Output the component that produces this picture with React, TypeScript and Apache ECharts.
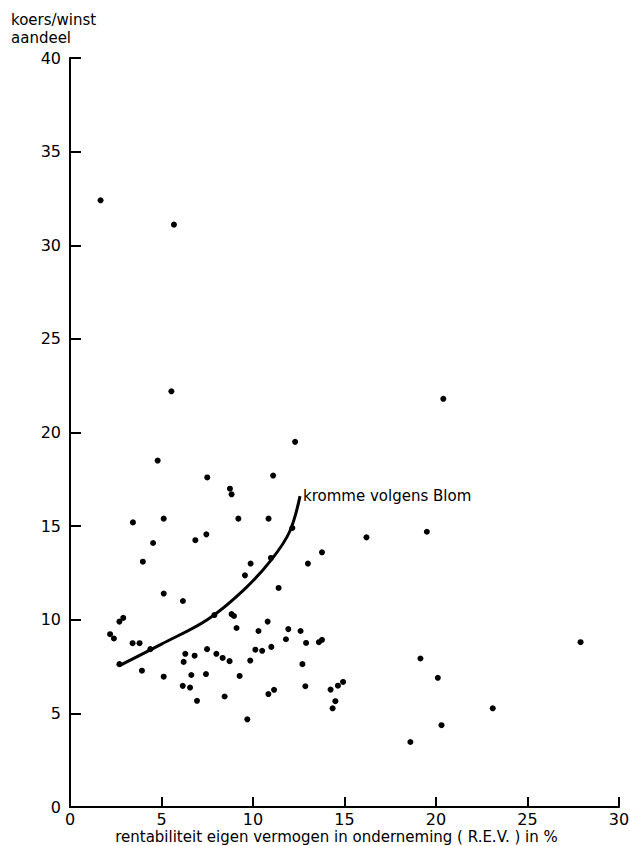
import React, { useEffect, useRef } from "react";
import * as echarts from "echarts";

// R.E.V. (%) and koers/winst per aandeel
const rev = [
  1.67, 5.68, 5.54, 20.4, 12.3, 4.79, 7.5, 11.1, 8.74, 8.83,
  3.44, 5.12, 9.2, 10.85, 12.15, 4.54, 6.85, 7.45, 16.2, 19.5,
  13.77, 3.98, 9.87, 10.98, 13.0, 9.56, 11.4, 5.12, 6.17, 2.91,
  2.7, 7.89, 8.83, 8.96, 9.1, 10.3, 10.8, 11.93, 12.6, 11.8,
  12.9, 13.6, 13.77, 2.19, 2.4, 3.42, 3.8, 4.39, 2.7, 3.93,
  6.3, 6.21, 6.81, 7.49, 8.0, 8.34, 8.72, 10.13, 10.5, 11.0,
  9.85, 12.7, 5.12, 6.63, 7.43, 9.27, 6.16, 6.56, 12.86, 6.94,
  8.45, 10.84, 11.15, 9.69, 14.24, 14.64, 14.92, 14.5, 14.35, 19.15,
  20.1, 23.1, 20.3, 18.6, 27.9,
];
const pe = [
  32.4, 31.1, 22.2, 21.8, 19.5, 18.5, 17.6, 17.7, 17.0, 16.7,
  15.2, 15.4, 15.4, 15.4, 14.9, 14.1, 14.25, 14.56, 14.4, 14.7,
  13.6, 13.1, 13.0, 13.3, 13.0, 12.37, 11.7, 11.4, 11.0, 10.1,
  9.9, 10.25, 10.3, 10.2, 9.56, 9.4, 9.9, 9.5, 9.4, 8.96,
  8.76, 8.8, 8.93, 9.23, 9.0, 8.75, 8.75, 8.43, 7.63, 7.28,
  8.18, 7.75, 8.08, 8.43, 8.18, 7.96, 7.79, 8.4, 8.34, 8.55,
  7.82, 7.63, 6.96, 7.05, 7.1, 7.0, 6.47, 6.38, 6.45, 5.67,
  5.9, 6.03, 6.26, 4.68, 6.27, 6.48, 6.68, 5.65, 5.27, 7.93,
  6.9, 5.27, 4.37, 3.47, 8.8,
];

// "kromme volgens Blom"
const blomX = [2.7, 5.0, 7.5, 9.5, 11.0, 12.0, 12.57];
const blomY = [7.55, 8.7, 10.0, 11.6, 13.2, 14.7, 16.6];

const xTicks = [0, 5, 10, 15, 20, 25, 30];
const yTicks = [0, 5, 10, 15, 20, 25, 30, 35, 40];

const FONT = "DejaVu Sans";

export default function App() {
  const ref = useRef<HTMLDivElement>(null);

  useEffect(() => {
    if (!ref.current) return;
    const chart = echarts.init(ref.current, null, { renderer: "svg" });
    const axisCommon = {
      axisLine: { show: true, lineStyle: { color: "#000", width: 2 } },
      axisTick: { show: true, inside: true, lineStyle: { color: "#000", width: 2 } },
      splitLine: { show: false },
    };
    chart.setOption({
      animation: false,
      backgroundColor: "#fff",
      title: {
        text: "koers/winst\naandeel",
        left: 6,
        top: 6,
        textStyle: {
          fontFamily: FONT,
          fontSize: 15,
          fontWeight: "normal",
          color: "#000",
          lineHeight: 18,
        },
      },
      grid: { left: 70, right: 11, top: 58, bottom: 39, outerBoundsMode: "none", containLabel: false },
      xAxis: {
        type: "value",
        min: xTicks[0],
        max: xTicks[xTicks.length - 1],
        interval: 5,
        ...axisCommon,
        axisTick: { ...axisCommon.axisTick, length: 10 },
        axisLabel: {
          color: "#000",
          fontFamily: FONT,
          fontSize: 16,
          margin: 4,
        },
        name: "rentabiliteit eigen vermogen in onderneming ( R.E.V. ) in %",
        nameLocation: "middle",
        nameGap: 22,
        nameMoveOverlap: false,
        nameTextStyle: {
          color: "#000",
          fontFamily: FONT,
          fontSize: 15,
          lineHeight: 15,
          padding: [0, 16, 0, 0],
        },
      },
      yAxis: {
        type: "value",
        min: yTicks[0],
        max: yTicks[yTicks.length - 1],
        interval: 5,
        ...axisCommon,
        axisTick: { ...axisCommon.axisTick, length: 11 },
        axisLabel: {
          color: "#000",
          fontFamily: FONT,
          fontSize: 16,
          margin: 9,
        },
      },
      series: [
        {
          type: "scatter",
          name: "ondernemingen",
          data: rev.map((x, i) => [x, pe[i]]),
          symbol: "circle",
          symbolSize: 6,
          itemStyle: { color: "#000", opacity: 1 },
        },
        {
          type: "line",
          name: "kromme volgens Blom",
          data: blomX.map((x, i) => [x, blomY[i]]),
          smooth: 0.35,
          showSymbol: false,
          lineStyle: { color: "#000", width: 3 },
          endLabel: {
            show: true,
            formatter: "{a}",
            color: "#000",
            fontFamily: FONT,
            fontSize: 15,
            distance: 3,
          },
        },
      ],
    });
    return () => chart.dispose();
  }, []);

  return (
    <div
      ref={ref}
      style={{ position: "fixed", left: 0, top: 0, width: 630, height: 846, background: "#fff" }}
    />
  );
}
